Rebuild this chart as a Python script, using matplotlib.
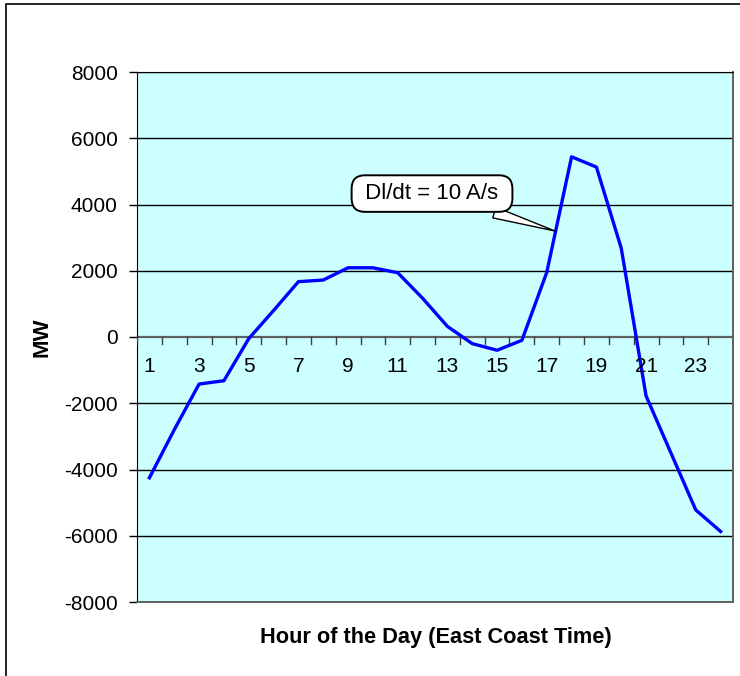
import matplotlib.pyplot as plt
import matplotlib.patches as patches
import numpy as np

plt.rcParams['font.family'] = ['Liberation Sans', 'DejaVu Sans']

hours = list(range(1, 25))
mw = [-4250, -2800, -1420, -1320, -50, 800, 1670, 1720, 2090, 2090, 1940, 1170,
      320, -200, -400, -100, 1950, 5440, 5130, 2680, -1780, -3500, -5220, -5870]
xtick_labels = [str(h) for h in hours if h % 2 == 1]
yticks = [-8000, -6000, -4000, -2000, 0, 2000, 4000, 6000, 8000]

fig = plt.figure(figsize=(7.4, 6.76), dpi=100)
ax = fig.add_axes([137/740, 1 - 602/676, (733 - 137)/740, (602 - 72)/676])
ax.set_facecolor('#CCFFFF')

# outer chart border (runs off the right and bottom edges)
fig.patches.append(patches.Rectangle((6/740, -0.5), 2, 1.5 - 4/676,
                                     transform=fig.transFigure, fill=False,
                                     ec='black', lw=1.2))

for v in yticks[1:]:
    if v != 0:
        ax.axhline(v, color='black', lw=1, zorder=1)
ax.axhline(0, color='#606060', lw=1.6, zorder=2)

ax.plot(hours, mw, color='#0000FF', lw=2.4, zorder=4)

ax.set_xlim(0.5, 24.5)
ax.set_ylim(-8000, 8000)
ax.set_yticks(yticks)
ax.set_yticklabels([str(v) for v in yticks], fontsize=15)
ax.tick_params(axis='y', direction='out', length=6, width=1, pad=8)

# category axis drawn along y = 0
ax.set_xticks([])
for b in np.arange(0.5, 25, 1):
    ax.plot([b, b], [0, -210], color='#404040', lw=1, zorder=3)
for h, lab in zip(hours[::2], xtick_labels):
    ax.text(h, -900, lab, ha='center', va='center', fontsize=15, zorder=5)

for s in ['left', 'top']:
    ax.spines[s].set_color('black')
for s in ['right', 'bottom']:
    ax.spines[s].set_color('#606060')
    ax.spines[s].set_linewidth(1.4)

fig.text(42/740, 1 - 337/676, 'MW', rotation=90, ha='center', va='center',
         fontsize=16, fontweight='bold')
fig.text(436/740, 1 - 637/676, 'Hour of the Day (East Coast Time)',
         ha='center', va='center', fontsize=15.7, fontweight='bold')

ax.annotate(' Dl/dt = 10 A/s ', xy=(17.33, 3200), xytext=(12.38, 4330),
            ha='center', va='center', fontsize=16, zorder=6,
            bbox=dict(boxstyle='round,pad=0.35,rounding_size=0.6', fc='white',
                      ec='black', lw=1.4),
            arrowprops=dict(arrowstyle='wedge,tail_width=0.5', fc='white',
                            ec='black', lw=1.0, shrinkA=0, shrinkB=0))

fig.savefig('out.png', dpi=100)
